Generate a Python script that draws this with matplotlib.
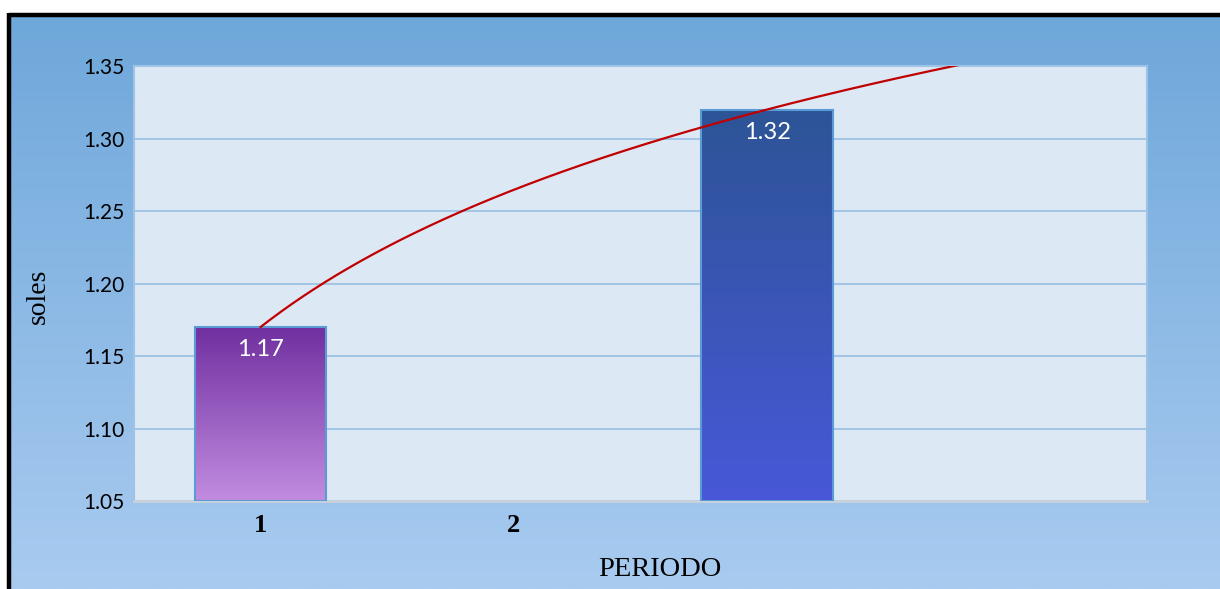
import numpy as np
import matplotlib
matplotlib.use("Agg")
import matplotlib.pyplot as plt
from matplotlib.colors import LinearSegmentedColormap
from matplotlib.lines import Line2D

# Data
periods = ["1", "2"]
values = [1.17, 1.32]
bar_slots = [1, 3]          # category slot each bar sits in
bar_colors = [("#c28ce0", "#7030a0"), ("#4858d8", "#2d5496")]  # (bottom, top)
y_ticks = [1.05, 1.10, 1.15, 1.20, 1.25, 1.30, 1.35]

W, H = 1220, 589
fig = plt.figure(figsize=(W / 100, H / 100), dpi=100)
fig.patch.set_facecolor("white")

# Chart background gradient
bg = fig.add_axes([7 / W, 0, 1 - 7 / W, 1 - 13 / H], zorder=0)
bg.imshow(np.linspace(0, 1, 256).reshape(-1, 1),
          cmap=LinearSegmentedColormap.from_list("bg", ["#6ea7da", "#a9cbf0"]),
          aspect="auto", extent=(0, 1, 0, 1), origin="upper")
bg.set_axis_off()

# Black frame along top and left edges
fig.add_artist(Line2D([8.5 / W, 1], [1 - 14.5 / H] * 2, color="black", lw=3.2,
                      transform=fig.transFigure, solid_capstyle="butt"))
fig.add_artist(Line2D([8.5 / W] * 2, [0, 1 - 13 / H], color="black", lw=3.2,
                      transform=fig.transFigure, solid_capstyle="butt"))

ax = fig.add_axes([134 / W, 1 - 501 / H, (1147 - 134) / W, (501 - 66) / H], zorder=1)
ax.set_facecolor("#dde8f5")
ax.set_xlim(0.5, 4.5)
ax.set_ylim(1.05, 1.35)

ax.set_yticks(y_ticks)
ax.set_yticklabels([f"{t:.2f}" for t in y_ticks], fontsize=15, family="Lato")
ax.grid(axis="y", color="#9dc3e6", lw=1.3)
ax.set_axisbelow(True)
ax.tick_params(axis="y", length=0, pad=7)
ax.tick_params(axis="x", length=0, pad=9)
ax.set_xticks(range(1, len(periods) + 1))
ax.set_xticklabels(periods, fontsize=19, fontweight="bold", family="Liberation Serif")

for side in ["top", "left", "right"]:
    ax.spines[side].set_color("#9dc3e6")
    ax.spines[side].set_linewidth(1.5)
ax.spines["bottom"].set_color("#c9d3dc")
ax.spines["bottom"].set_linewidth(2)

width = 0.52
grad = np.linspace(1, 0, 256).reshape(-1, 1)
for slot, val, (c0, c1) in zip(bar_slots, values, bar_colors):
    cmap = LinearSegmentedColormap.from_list("b", [c0, c1])
    ax.imshow(grad, cmap=cmap, aspect="auto", origin="upper",
              extent=(slot - width / 2, slot + width / 2, 1.05, val), zorder=2)
    ax.bar(slot, val - 1.05, bottom=1.05, width=width, facecolor="none",
           edgecolor="#5b9bd5", lw=1.5, zorder=3)
    ax.text(slot, val - 0.0085, f"{val:.2f}", ha="center", va="top", color="white",
            fontsize=17, family="Lato", zorder=4)

# Logarithmic trend line through the bars
b, a = np.polyfit(np.log(bar_slots), values, 1)
xs = np.linspace(1, 4.5, 400)
ax.plot(xs, a + b * np.log(xs), color="#c00000", lw=1.6, zorder=5, clip_on=True)

ax.set_xlim(0.5, 4.5)
ax.set_ylim(1.05, 1.35)

fig.text(38 / W, 1 - 296 / H, "soles", rotation=90, ha="center", va="center",
         fontsize=20, family="Liberation Serif")
fig.text(660 / W, 1 - 569 / H, "PERIODO", ha="center", va="center",
         fontsize=20.5, family="Liberation Serif")

fig.savefig("out.png", dpi=100, facecolor=fig.get_facecolor())
